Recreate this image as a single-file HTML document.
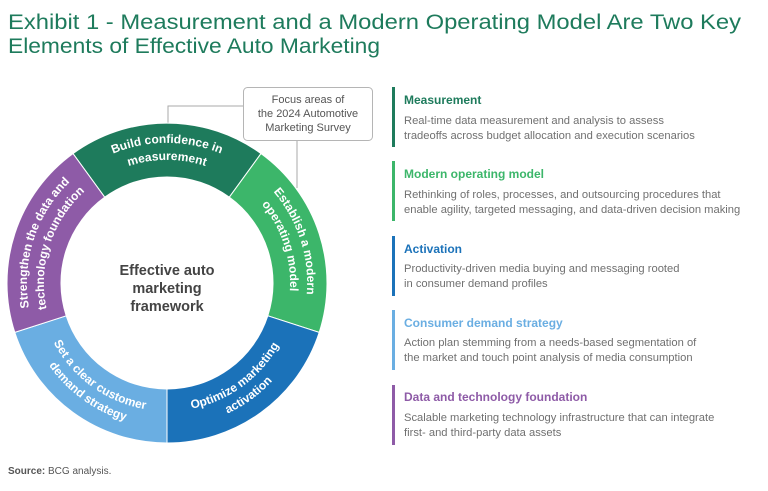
<!DOCTYPE html>
<html><head><meta charset="utf-8"><style>
html,body{margin:0;padding:0;background:#fff;}
svg{display:block;font-family:"Liberation Sans",sans-serif;}
</style></head><body>
<svg width="768" height="491" viewBox="0 0 768 491" xmlns="http://www.w3.org/2000/svg">
<defs>
<path id="t140" d="M35.4,235.1 A140,140 0 0 1 298.6,235.1"/>
<path id="t123" d="M51.4,240.9 A123,123 0 0 1 282.6,240.9"/>
<path id="b128" d="M46.7,326.8 A128,128 0 0 0 287.3,326.8"/>
<path id="b144" d="M31.7,332.2 A144,144 0 0 0 302.3,332.2"/>
</defs>
<text x="8" y="29" font-size="21" fill="#1e7b5c" textLength="733" lengthAdjust="spacingAndGlyphs">Exhibit 1 - Measurement and a Modern Operating Model Are Two Key</text>
<text x="8" y="53" font-size="21" fill="#1e7b5c" textLength="372" lengthAdjust="spacingAndGlyphs">Elements of Effective Auto Marketing</text>

<path d="M243,106 H168 V124" fill="none" stroke="#aaa" stroke-width="1"/>
<path d="M297,141 V188" fill="none" stroke="#aaa" stroke-width="1"/>
<rect x="243.5" y="87.5" width="129" height="53" rx="4" fill="#fff" stroke="#b5b5b5"/>
<g font-size="11" fill="#555" text-anchor="middle">
<text x="308" y="103">Focus areas of</text>
<text x="308" y="117">the 2024 Automotive</text>
<text x="308" y="131">Marketing Survey</text>
</g>

<g stroke="#fff" stroke-width="1">
<path d="M73,153.6 A160,160 0 0 1 261,153.6 L229.3,197.2 A106,106 0 0 0 104.7,197.2 Z" fill="#1e7b5c"/>
<path d="M261,153.6 A160,160 0 0 1 319.2,332.4 L267.8,315.8 A106,106 0 0 0 229.3,197.2 Z" fill="#3cb66a"/>
<path d="M319.2,332.4 A160,160 0 0 1 167,443 L167,389 A106,106 0 0 0 267.8,315.8 Z" fill="#1b72b9"/>
<path d="M167,443 A160,160 0 0 1 14.8,332.4 L66.2,315.8 A106,106 0 0 0 167,389 Z" fill="#6aaee2"/>
<path d="M14.8,332.4 A160,160 0 0 1 73,153.6 L104.7,197.2 A106,106 0 0 0 66.2,315.8 Z" fill="#8e5ba7"/>
</g>
<g font-size="12" font-weight="bold" fill="#fff" text-anchor="middle">
<text><textPath href="#t140" startOffset="50%">Build confidence in</textPath></text>
<text><textPath href="#t123" startOffset="50%">measurement</textPath></text>
<g transform="rotate(72 167 283)">
<text><textPath href="#t140" startOffset="50%">Establish a modern</textPath></text>
<text><textPath href="#t123" startOffset="50%">operating model</textPath></text>
</g>
<g transform="rotate(-72 167 283)">
<text><textPath href="#t140" startOffset="50%">Strengthen the data and</textPath></text>
<text><textPath href="#t123" startOffset="50%">technology foundation</textPath></text>
</g>
<g transform="rotate(-36 167 283)">
<text><textPath href="#b128" startOffset="50%">Optimize marketing</textPath></text>
<text><textPath href="#b144" startOffset="50%">activation</textPath></text>
</g>
<g transform="rotate(36 167 283)">
<text><textPath href="#b128" startOffset="50%">Set a clear customer</textPath></text>
<text><textPath href="#b144" startOffset="50%">demand strategy</textPath></text>
</g>
</g>
<g font-size="14.5" font-weight="bold" fill="#444" text-anchor="middle">
<text x="167" y="275">Effective auto</text>
<text x="167" y="293">marketing</text>
<text x="167" y="311">framework</text>
</g>

<g font-size="11.2" fill="#707070">
<rect x="392" y="87" width="3" height="60" fill="#1e7b5c"/>
<text x="404" y="104" font-size="12" font-weight="bold" fill="#1e7b5c">Measurement</text>
<text x="404" y="124">Real-time data measurement and analysis to assess</text>
<text x="404" y="139">tradeoffs across budget allocation and execution scenarios</text>

<rect x="392" y="161" width="3" height="60" fill="#3cb66a"/>
<text x="404" y="178" font-size="12" font-weight="bold" fill="#3cb66a">Modern operating model</text>
<text x="404" y="198">Rethinking of roles, processes, and outsourcing procedures that</text>
<text x="404" y="213">enable agility, targeted messaging, and data-driven decision making</text>

<rect x="392" y="236" width="3" height="60" fill="#1b72b9"/>
<text x="404" y="253" font-size="12" font-weight="bold" fill="#1b72b9">Activation</text>
<text x="404" y="272">Productivity-driven media buying and messaging rooted</text>
<text x="404" y="287">in consumer demand profiles</text>

<rect x="392" y="310" width="3" height="60" fill="#6aaee2"/>
<text x="404" y="327" font-size="12" font-weight="bold" fill="#6aaee2">Consumer demand strategy</text>
<text x="404" y="346">Action plan stemming from a needs-based segmentation of</text>
<text x="404" y="361">the market and touch point analysis of media consumption</text>

<rect x="392" y="385" width="3" height="60" fill="#8e5ba7"/>
<text x="404" y="401" font-size="12" font-weight="bold" fill="#8e5ba7">Data and technology foundation</text>
<text x="404" y="421">Scalable marketing technology infrastructure that can integrate</text>
<text x="404" y="436">first- and third-party data assets</text>
</g>

<text x="8" y="474" font-size="10" fill="#555"><tspan font-weight="bold">Source:</tspan> BCG analysis.</text>
</svg>
</body></html>
